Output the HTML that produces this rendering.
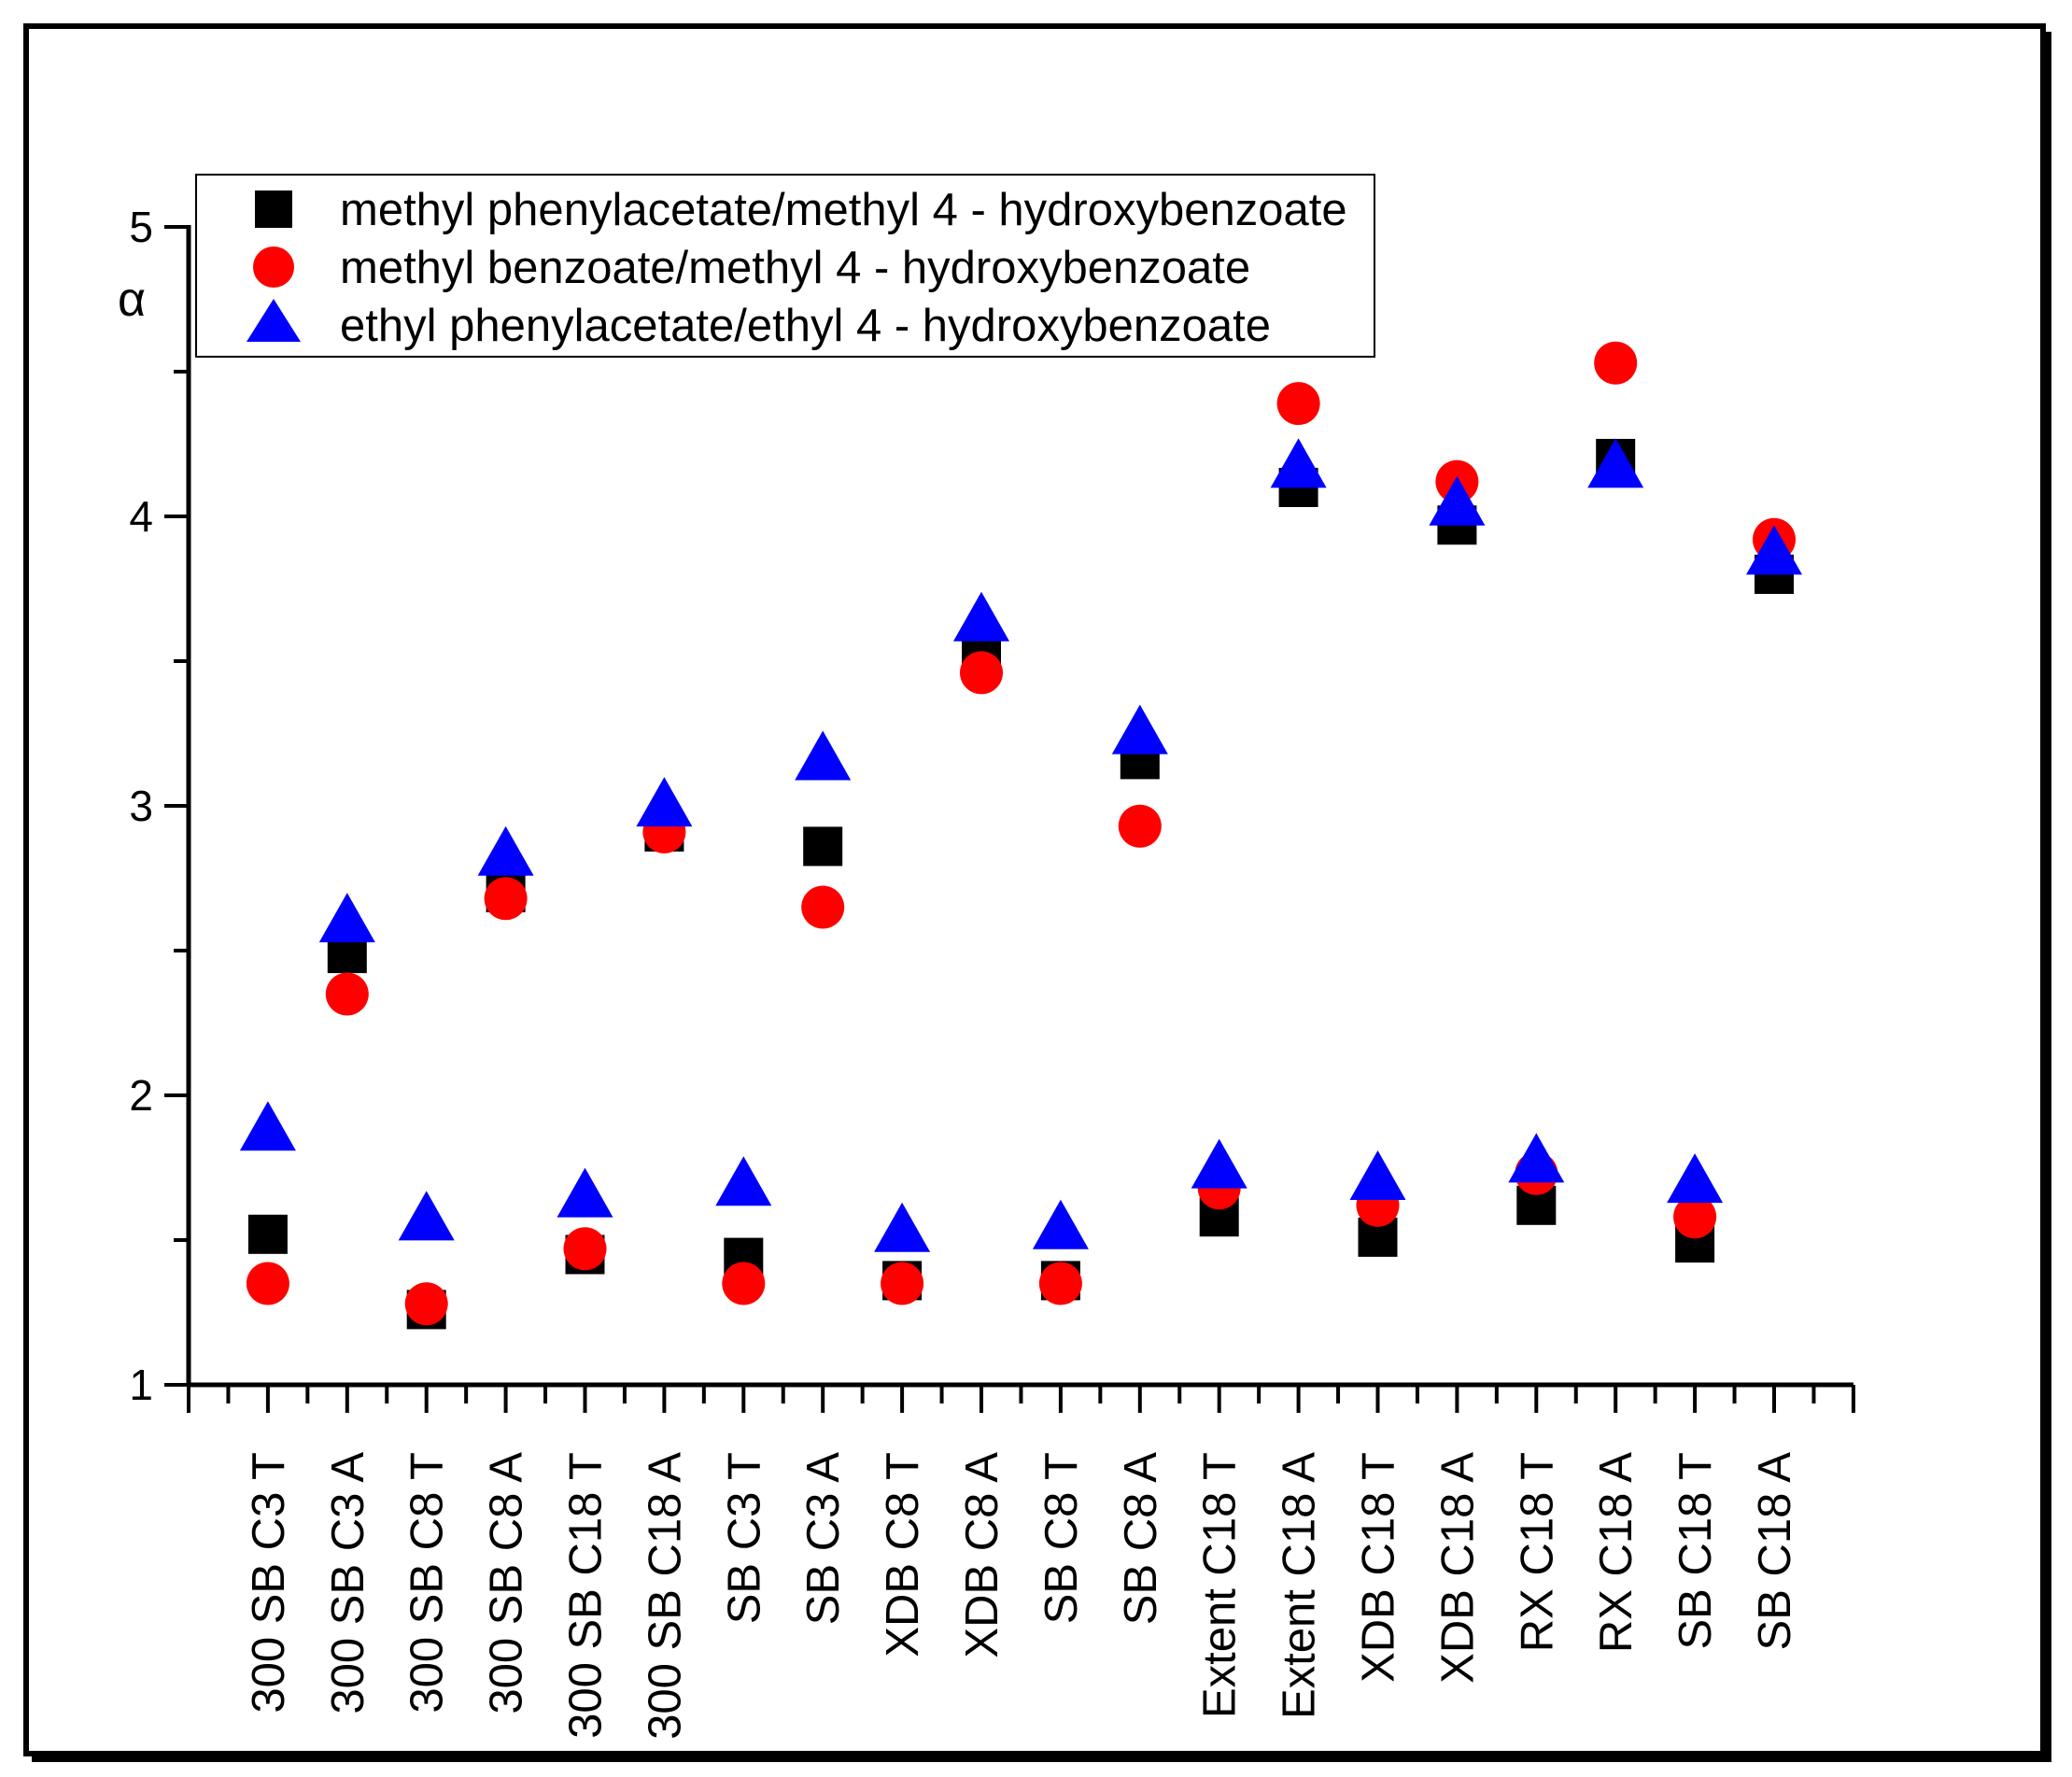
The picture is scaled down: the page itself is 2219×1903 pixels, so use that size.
<!DOCTYPE html>
<html><head><meta charset="utf-8"><style>
html,body{margin:0;padding:0;background:#fff}
svg{display:block}
text{font-family:"Liberation Sans",Arial,sans-serif;fill:#000}
</style></head><body>
<svg id="chart" width="2219" height="1903" viewBox="0 0 2219 1903" xmlns="http://www.w3.org/2000/svg">
<rect x="28" y="28" width="2160" height="1850" fill="none" stroke="#000" stroke-width="6"/>
<path d="M2194 34 V1884 H34" fill="none" stroke="#000" stroke-width="6"/>
<g id="axes"></g>
<g id="marks"></g>
<g>
<rect x="210" y="187" width="1262" height="195" fill="#fff" stroke="#000" stroke-width="2"/>
<rect x="273" y="204" width="40" height="40" fill="#000"/>
<text x="364" y="241" font-size="49">methyl phenylacetate/methyl 4 - hydroxybenzoate</text>
<circle cx="293" cy="286" r="22" fill="#f00"/>
<text x="364" y="303" font-size="49">methyl benzoate/methyl 4 - hydroxybenzoate</text>
<polygon points="293,320 322,366 264,366" fill="#00f"/>
<text x="364" y="365" font-size="49">ethyl phenylacetate/ethyl 4 - hydroxybenzoate</text>
</g>
<text x="126" y="338" font-size="52" font-family="Liberation Serif, serif">α</text>
</svg>
<script>
const categories=["300 SB C3 T","300 SB C3 A","300 SB C8 T","300 SB C8 A","300 SB C18 T","300 SB C18 A","SB C3 T","SB C3 A","XDB C8 T","XDB C8 A","SB C8 T","SB C8 A","Extent C18 T","Extent C18 A","XDB C18 T","XDB C18 A","RX C18 T","RX C18 A","SB C18 T","SB C18 A"];
const squareValues=[1.52,2.49,1.26,2.70,1.45,2.91,1.44,2.86,1.36,3.55,1.36,3.16,1.58,4.10,1.51,3.97,1.62,4.20,1.49,3.80];
const circleValues=[1.35,2.35,1.28,2.68,1.47,2.91,1.35,2.65,1.35,3.46,1.35,2.93,1.68,4.39,1.62,4.12,1.73,4.53,1.58,3.92];
const triangleValues=[1.87,2.59,1.56,2.82,1.64,2.99,1.68,3.15,1.52,3.63,1.53,3.24,1.74,4.16,1.70,4.03,1.76,4.16,1.69,3.86];
const yTicks=[1,2,3,4,5];

const NS="http://www.w3.org/2000/svg";
const X0=202,Y0=1483,STEP=84.9,UNIT=310;
const XEND=X0+STEP*(categories.length+1);
const xs=i=>X0+STEP*(i+1);
const ys=v=>Y0-(v-1)*UNIT;
function mk(tag,attrs,parent){const e=document.createElementNS(NS,tag);for(const k in attrs)e.setAttribute(k,attrs[k]);parent.appendChild(e);return e;}
const axes=document.getElementById('axes'),marks=document.getElementById('marks');

let l=mk('line',{x1:X0,y1:Y0,x2:XEND,y2:Y0,stroke:'#000','stroke-width':5},axes);


l=mk('line',{x1:X0,y1:ys(5)-2,x2:X0,y2:Y0+2,stroke:'#000','stroke-width':5},axes);



for(let k=0;k<=(categories.length+1)*2;k++){
  const x=X0+STEP*k/2;
  const major=k%2===0;
  const t=mk('line',{x1:x,y1:Y0,x2:x,y2:Y0+(major?30:20),stroke:'#000','stroke-width':4},axes);
  
  
}
for(let v=1;v<=5;v+=0.5){
  const major=Number.isInteger(v);
  const t=mk('line',{x1:X0-(major?26:16),y1:ys(v),x2:X0,y2:ys(v),stroke:'#000','stroke-width':4},axes);
  
  
}
yTicks.forEach(v=>{
  const t=mk('text',{x:X0-38,y:ys(v)+16,'font-size':46,'text-anchor':'end'},axes);
  t.textContent=v;
  
  
});
categories.forEach((c,i)=>{
  const x=xs(i)+17,y=1555;
  const t=mk('text',{x:x,y:y,'font-size':49,'text-anchor':'end',transform:`rotate(-90 ${x} ${y})`},axes);
  t.textContent=c;
  
  
});
squareValues.forEach((v,i)=>{
  const r=mk('rect',{x:xs(i)-21,y:ys(v)-21,width:42,height:42,fill:'#000'},marks);
  
  
});
circleValues.forEach((v,i)=>{
  const c=mk('circle',{cx:xs(i),cy:ys(v),r:23,fill:'#f00'},marks);
  
  
});
triangleValues.forEach((v,i)=>{
  const x=xs(i),y=ys(v);
  const p=mk('polygon',{points:`${x},${y-34} ${x+30},${y+19} ${x-30},${y+19}`,fill:'#00f'},marks);
  
  
});
</script>
</body></html>
